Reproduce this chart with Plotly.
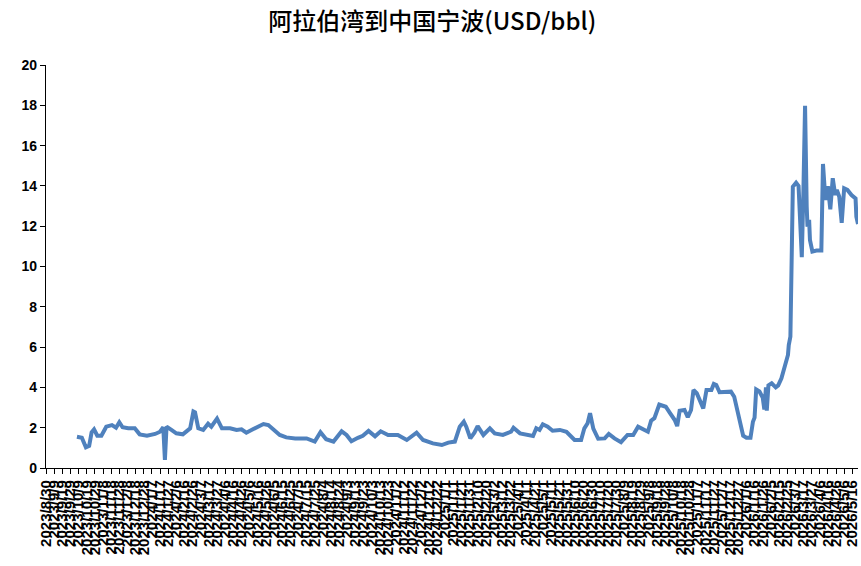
import plotly.graph_objects as go

dates = [
    "2023-10-07", "2023-10-13", "2023-10-18", "2023-10-22", "2023-10-25", "2023-10-28",
    "2023-11-01", "2023-11-06", "2023-11-12", "2023-11-19", "2023-11-24", "2023-11-28",
    "2023-12-02", "2023-12-09", "2023-12-17", "2023-12-23",
    "2024-01-01", "2024-01-11", "2024-01-17", "2024-01-21", "2024-01-23", "2024-01-25", "2024-01-31",
    "2024-02-06", "2024-02-14", "2024-02-23", "2024-02-27", "2024-02-29",
    "2024-03-04", "2024-03-10", "2024-03-16", "2024-03-20", "2024-03-27",
    "2024-04-02", "2024-04-12", "2024-04-20", "2024-04-26",
    "2024-05-02", "2024-05-10", "2024-05-19", "2024-05-23", "2024-05-29",
    "2024-06-04", "2024-06-12", "2024-06-20",
    "2024-07-01", "2024-07-15", "2024-07-25",
    "2024-08-01", "2024-08-08", "2024-08-17", "2024-08-27",
    "2024-09-02", "2024-09-08", "2024-09-16", "2024-09-22", "2024-09-29",
    "2024-10-07", "2024-10-14", "2024-10-23",
    "2024-11-04", "2024-11-15", "2024-11-27",
    "2024-12-05", "2024-12-17", "2024-12-28",
    "2025-01-05", "2025-01-13", "2025-01-19", "2025-01-24", "2025-01-27",
    "2025-02-01", "2025-02-06", "2025-02-10", "2025-02-17", "2025-02-21", "2025-02-25",
    "2025-03-03", "2025-03-13", "2025-03-23", "2025-03-26",
    "2025-04-03", "2025-04-13", "2025-04-19", "2025-04-23", "2025-04-27",
    "2025-05-01", "2025-05-07", "2025-05-13", "2025-05-22", "2025-05-30",
    "2025-06-09", "2025-06-17", "2025-06-21", "2025-06-25", "2025-06-28",
    "2025-07-02", "2025-07-08", "2025-07-16", "2025-07-21", "2025-07-28",
    "2025-08-05", "2025-08-13", "2025-08-20", "2025-08-26",
    "2025-09-03", "2025-09-07", "2025-09-11", "2025-09-15", "2025-09-21", "2025-09-29",
    "2025-10-04", "2025-10-10", "2025-10-13", "2025-10-16", "2025-10-22", "2025-10-26", "2025-10-30",
    "2025-11-02", "2025-11-06", "2025-11-12", "2025-11-14", "2025-11-18", "2025-11-24", "2025-11-27", "2025-11-30",
    "2025-12-04", "2025-12-12", "2025-12-18", "2025-12-22", "2025-12-27", "2025-12-30",
    "2026-01-02", "2026-01-06", "2026-01-11", "2026-01-14", "2026-01-16", "2026-01-18",
    "2026-01-22", "2026-01-26", "2026-01-28", "2026-01-30", "2026-01-31",
    "2026-02-02", "2026-02-06", "2026-02-11", "2026-02-14", "2026-02-18", "2026-02-22",
    "2026-02-26", "2026-02-27",
    "2026-03-01", "2026-03-04", "2026-03-08", "2026-03-11", "2026-03-15", "2026-03-17",
    "2026-03-19", "2026-03-21", "2026-03-22", "2026-03-24", "2026-03-25", "2026-03-28",
    "2026-04-02", "2026-04-08", "2026-04-10", "2026-04-13", "2026-04-16", "2026-04-19",
    "2026-04-22", "2026-04-25", "2026-04-27", "2026-04-30",
    "2026-05-03", "2026-05-06", "2026-05-10", "2026-05-15", "2026-05-20", "2026-05-21", "2026-05-23",
]

freight = [
    1.55, 1.50, 1.03, 1.10, 1.77, 1.92,
    1.60, 1.60, 2.05, 2.13, 2.00, 2.27,
    2.02, 1.97, 1.97, 1.67,
    1.60, 1.69, 1.80, 2.02, 0.40, 2.05, 1.89,
    1.72, 1.67, 1.97, 2.80, 2.76,
    1.97, 1.89, 2.20, 2.05, 2.45,
    1.97, 1.97, 1.89, 1.92,
    1.75, 1.92, 2.10, 2.18, 2.13,
    1.92, 1.64, 1.52,
    1.47, 1.47, 1.31,
    1.78, 1.43, 1.31, 1.82,
    1.64, 1.33, 1.50, 1.60, 1.84,
    1.57, 1.82, 1.64,
    1.64, 1.39, 1.75,
    1.39, 1.22, 1.14,
    1.26, 1.31, 2.05, 2.30, 2.05,
    1.47, 1.75, 2.08, 1.64, 1.80, 1.97,
    1.72, 1.64, 1.80, 2.00,
    1.72, 1.64, 1.59, 1.97, 1.89,
    2.17, 2.05, 1.85, 1.89, 1.80,
    1.39, 1.39, 1.97, 2.22, 2.72,
    1.95, 1.45, 1.47, 1.69, 1.47,
    1.28, 1.64, 1.64, 2.05,
    1.89, 1.80, 2.35, 2.47, 3.15, 3.04,
    2.74, 2.38, 2.08, 2.84, 2.88, 2.52, 2.88,
    3.87, 3.71, 3.04, 2.96, 3.87, 3.87, 4.17, 4.12,
    3.76, 3.76, 3.79, 3.54, 2.55, 2.00,
    1.60, 1.50, 1.50, 2.30, 2.50, 3.90,
    3.80, 3.50, 2.90, 4.00, 2.85,
    4.10, 4.20, 4.00, 4.10, 4.45, 5.03,
    5.61, 6.10,
    6.52, 13.96, 14.16, 14.00, 10.46, 13.80,
    17.97, 12.97, 11.98, 12.31, 11.32, 10.74,
    10.79, 10.79, 15.09, 13.30, 13.99, 12.84,
    14.38, 13.55, 13.80, 13.46,
    12.17, 13.88, 13.80, 13.55, 13.38, 12.47, 12.11,
]

y_ticks = [0, 2, 4, 6, 8, 10, 12, 14, 16, 18, 20]
title_text = "阿拉伯湾到中国宁波(USD/bbl)"

fig = go.Figure()
fig.add_trace(go.Scatter(
    x=dates, y=freight, mode="lines",
    line=dict(color="#4F81BD", width=4),
    showlegend=False,
))

fig.update_layout(
    width=861, height=566,
    margin=dict(l=46, r=3, t=65, b=98),
    paper_bgcolor="white", plot_bgcolor="white",
    title=dict(
        text=title_text, x=0.502, xanchor="center", y=0.962, yanchor="middle",
        font=dict(family="Noto Sans CJK SC", size=24, color="black", weight=500),
    ),
    xaxis=dict(
        type="date",
        range=["2023-08-30", "2026-05-23"],
        tick0="2023-08-30", dtick=10 * 86400000,
        tickformat="%Y/%-m/%-d", tickangle=-90,
        ticks="outside", ticklen=5, tickcolor="black",
        showline=True, linecolor="black", linewidth=1.3,
        showgrid=False, zeroline=False, automargin=False,
        tickfont=dict(family="Liberation Sans", size=15, color="black", weight="bold"),
    ),
    yaxis=dict(
        range=[0, 20], tickmode="array", tickvals=y_ticks,
        ticks="outside", ticklen=5, tickcolor="black",
        showline=True, linecolor="black", linewidth=1.3,
        showgrid=False, zeroline=False, automargin=False,
        tickfont=dict(family="Liberation Sans", size=14, color="black", weight="bold"),
    ),
)

fig.write_html(
    "out.html",
    config={"displayModeBar": False},
    post_script="document.body.style.margin='0';document.body.style.overflow='hidden';",
)
